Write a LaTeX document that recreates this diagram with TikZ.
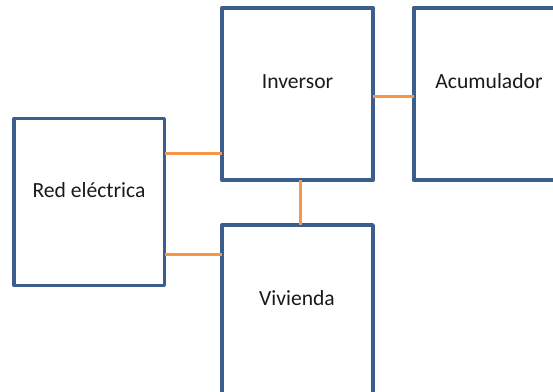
\documentclass[tikz,border=0pt]{standalone}
\usepackage{fontspec}
\setmainfont{Carlito}
\definecolor{boxblue}{HTML}{3B5E8C}
\definecolor{wireorange}{HTML}{F79646}
\definecolor{txt}{HTML}{1A1A1A}
\begin{document}
\begin{tikzpicture}[x=1pt,y=-1pt,
  blk/.style={draw=boxblue,line width=3.8pt,line join=round,rectangle,inner sep=0pt,outer sep=0pt,anchor=north west},
  lbl/.style={anchor=base,inner sep=0pt,text=txt,font=\fontsize{21.6}{26}\selectfont},
  wire/.style={draw=wireorange,line width=3pt}]
\useasboundingbox (0,0) rectangle (553,391);
\node[blk,minimum width=150.5pt,minimum height=167pt] (red) at (14,118.5) {};
\node[blk,minimum width=150.7pt,minimum height=172.6pt] (inv) at (222.3,7.7) {};
\node[blk,minimum width=150.7pt,minimum height=172.6pt] (acc) at (413.7,7.7) {};
\node[blk,minimum width=150.7pt,minimum height=180pt] (viv) at (222.3,225) {};
\node[lbl] (tred) at (89,197.7) {Red eléctrica};
\node[lbl] (tinv) at (297.6,88.3) {Inversor};
\node[lbl] (tacc) at (489,88.3) {Acumulador};
\node[lbl] (tviv) at (297,305.7) {Vivienda};
\coordinate (ya) at (0,153);
\coordinate (yb) at (0,254.7);
\coordinate (yc) at (0,96.7);
\coordinate (xv) at (300,0);
\draw[wire] (red.east |- ya) -- (inv.west |- ya);
\draw[wire] (red.east |- yb) -- (viv.west |- yb);
\draw[wire] (inv.east |- yc) -- (acc.west |- yc);
\draw[wire] (inv.south -| xv) -- (viv.north -| xv);
\end{tikzpicture}
\end{document}
